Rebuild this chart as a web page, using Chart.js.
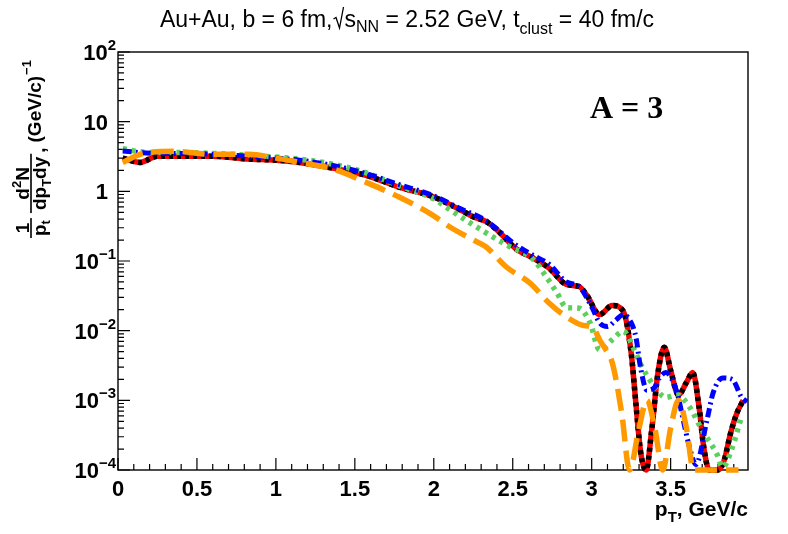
<!DOCTYPE html>
<html><head><meta charset="utf-8">
<script src="https://cdn.jsdelivr.net/npm/chart.js@4.4.1/dist/chart.umd.min.js"></script>
<style>html,body{margin:0;padding:0;background:#fff;} #wrap{width:788px;height:534px;position:relative;}</style>
</head><body><div id="wrap"><canvas id="c"></canvas></div>
<script>
// ---- data (pT in GeV/c, yields in (GeV/c)^-1) ----
const pT_rb = [0.03,0.14,0.25,0.4,0.6,0.83,1.0,1.15,1.36,1.57,1.78,2.0,2.1,2.17,2.25,2.33,2.4,2.52,2.63,2.73,2.84,2.92,2.97,3.05,3.13,3.2,3.25,3.28,3.31,3.345,3.38,3.42,3.46,3.5,3.55,3.6,3.64,3.68,3.71,3.745,3.8,3.84,3.88,3.92,3.96];
const val_rb = [3.0,2.6,3.2,3.2,3.2,2.9,2.8,2.6,2.15,1.7,1.15,0.83,0.65,0.54,0.43,0.37,0.28,0.15,0.11,0.079,0.046,0.043,0.032,0.017,0.023,0.019,0.0048,0.0009,0.00018,0.0001,0.00037,0.0025,0.0058,0.0027,0.0012,0.0018,0.0025,0.0008,0.00021,0.0001,0.0001,0.00014,0.00034,0.00066,0.001];

const pT_blue = [0.03,0.14,0.25,0.4,0.6,0.83,1.0,1.15,1.36,1.57,1.78,2.0,2.17,2.33,2.52,2.63,2.73,2.84,2.92,3.0,3.05,3.1,3.15,3.2,3.25,3.28,3.31,3.35,3.4,3.43,3.47,3.54,3.58,3.62,3.66,3.73,3.77,3.83,3.89,3.95,3.985];
const val_blue = [3.8,3.6,3.5,3.5,3.4,3.2,3.0,2.8,2.35,1.8,1.25,0.86,0.56,0.38,0.17,0.12,0.09,0.05,0.043,0.022,0.013,0.0115,0.014,0.017,0.013,0.0081,0.0029,0.0014,0.00155,0.0021,0.0025,0.0013,0.00052,0.00021,0.00012,0.00052,0.0013,0.0021,0.002,0.0011,0.00095];

const pT_green = [0.03,0.14,0.25,0.4,0.6,0.83,1.0,1.15,1.36,1.57,1.78,2.0,2.1,2.25,2.46,2.63,2.7,2.78,2.84,2.92,2.99,3.05,3.13,3.2,3.27,3.31,3.4,3.47,3.54,3.62,3.7,3.79,3.83,3.89,3.95];
const val_green = [4.1,3.7,3.6,3.6,3.5,3.3,3.1,2.9,2.45,1.85,1.2,0.78,0.55,0.33,0.17,0.105,0.065,0.035,0.0215,0.021,0.0129,0.0053,0.0074,0.0098,0.0053,0.0033,0.00155,0.0011,0.0012,0.0008,0.00037,0.000175,0.00011,0.00021,0.0006];

const pT_orange = [0.03,0.16,0.37,0.58,0.83,1.0,1.15,1.36,1.57,1.78,1.99,2.1,2.25,2.33,2.46,2.61,2.73,2.84,2.94,3.01,3.05,3.09,3.13,3.19,3.24,3.3,3.35,3.4,3.45,3.5,3.55,3.6,3.645,3.7,3.93];
const val_orange = [2.6,3.5,3.75,3.4,3.4,3.0,2.6,2.1,1.35,0.83,0.46,0.31,0.2,0.16,0.082,0.048,0.025,0.0158,0.012,0.0109,0.0074,0.0053,0.0035,0.00066,0.0001,0.0004,0.001,0.0004,0.0001,0.0004,0.001,0.0004,0.0001,0.0001,0.0001];

const xTickValues = [0,0.5,1,1.5,2,2.5,3,3.5];
const xTickLabels = ['0','0.5','1','1.5','2','2.5','3','3.5'];
const yTickValues = [1e-4,1e-3,1e-2,1e-1,1,10,100];
const yTickBase = ['10','10','10','10','1','10','10'];
const yTickSup = ['\u22124','\u22123','\u22122','\u22121','','','2'];

const SANS = '"Liberation Sans", Arial, Helvetica, sans-serif';
const SERIF = '"Liberation Serif", "Times New Roman", serif';

function pts(xs, ys) { return xs.map((x, i) => ({x: x, y: ys[i]})); }
function fnt(p) { return (p.bold ? 'bold ' : '') + p.size + 'px ' + (p.family || SANS); }
function measureParts(ctx, parts) {
  let t = 0;
  parts.forEach(p => {
    if (p.rad) { p.w = p.rad; } else { ctx.font = fnt(p); p.w = ctx.measureText(p.t).width; }
    t += p.w + (p.gap || 0);
  });
  return t;
}
function drawParts(ctx, x, y, parts, align) {
  const total = measureParts(ctx, parts);
  let cx = align === 'center' ? x - total / 2 : (align === 'right' ? x - total : x);
  ctx.textAlign = 'left'; ctx.textBaseline = 'alphabetic';
  parts.forEach(p => {
    if (p.rad) {
      ctx.save(); ctx.lineWidth = 1.3; ctx.strokeStyle = ctx.fillStyle;
      ctx.beginPath();
      ctx.moveTo(cx + 1, y - 8); ctx.lineTo(cx + 3.5, y - 9.5);
      ctx.lineTo(cx + 7, y + 1); ctx.lineTo(cx + p.rad - 1, y - 20);
      ctx.stroke(); ctx.restore();
    } else {
      ctx.font = fnt(p); ctx.fillText(p.t, cx, y + (p.dy || 0));
    }
    cx += p.w + (p.gap || 0);
  });
  return total;
}

const decor = {
  id: 'decor',
  beforeDatasetsDraw(chart) {
    const ctx = chart.ctx, a = chart.chartArea, xs = chart.scales.x, ys = chart.scales.y;
    ctx.save();
    ctx.strokeStyle = '#000'; ctx.lineWidth = 1.4;
    ctx.strokeRect(a.left, a.top, a.right - a.left, a.bottom - a.top);
    ctx.lineWidth = 1.2;
    ctx.beginPath();
    for (let i = 0; i <= 40; i++) {
      const v = i / 10;
      if (v > xs.max) break;
      const px = xs.getPixelForValue(v);
      const len = (i % 5 === 0) ? 12 : 6;
      ctx.moveTo(px, a.bottom); ctx.lineTo(px, a.bottom - len);
    }
    for (let e = -4; e <= 2; e++) {
      for (let k = 1; k <= 9; k++) {
        const v = k * Math.pow(10, e);
        if (v > ys.max * 1.0001) break;
        const py = ys.getPixelForValue(v);
        const len = (k === 1) ? 12 : 6;
        ctx.moveTo(a.left, py); ctx.lineTo(a.left + len, py);
      }
    }
    ctx.stroke();
    ctx.restore();
  },
  afterDraw(chart) {
    const ctx = chart.ctx, a = chart.chartArea, xs = chart.scales.x, ys = chart.scales.y;
    ctx.save();
    ctx.fillStyle = '#000';
    // x tick labels
    ctx.font = 'bold 22px ' + SANS; ctx.textAlign = 'center'; ctx.textBaseline = 'alphabetic';
    xTickValues.forEach((v, i) => ctx.fillText(xTickLabels[i], xs.getPixelForValue(v), a.bottom + 26));
    // y tick labels
    yTickValues.forEach((v, i) => {
      const py = ys.getPixelForValue(v);
      const parts = [{t: yTickBase[i], size: 22, bold: true}];
      if (yTickSup[i]) parts.push({t: yTickSup[i], size: 15, bold: true, dy: -10, gap: 0});
      drawParts(ctx, yTickSup[i] ? a.left - 2 : a.left - 10, py + 8, parts, 'right');
    });
    // title
    drawParts(ctx, 407, 27, [
      {t: 'Au+Au, b = 6 fm,', size: 23},
      {rad: 12},
      {t: 's', size: 23},
      {t: 'NN', size: 16, dy: 5},
      {t: ' = 2.52 GeV, t', size: 23},
      {t: 'clust', size: 16, dy: 7},
      {t: ' = 40 fm/c', size: 23}
    ], 'center');
    // x axis title
    drawParts(ctx, a.right, 516, [
      {t: 'p', size: 21, bold: true},
      {t: 'T', size: 15, bold: true, dy: 6},
      {t: ', GeV/c', size: 21, bold: true}
    ], 'right');
    // A = 3
    ctx.font = 'bold 32px ' + SERIF; ctx.textAlign = 'left';
    ctx.fillText('A = 3', 590, 118);
    // y axis title (rotated)
    ctx.translate(31, 238); ctx.rotate(-Math.PI / 2);
    const F = 19, S = 13;
    const n1 = [{t: '1', size: F, bold: true}];
    const d1 = [{t: 'p', size: F, bold: true}, {t: 't', size: S, bold: true, dy: 4}];
    const w1 = Math.max(measureParts(ctx, n1), measureParts(ctx, d1)) + 4;
    ctx.fillRect(0, -0.8, w1, 1.6);
    drawParts(ctx, w1 / 2, -2, n1, 'center');
    drawParts(ctx, w1 / 2, 15, d1, 'center');
    let u = w1 + 5;
    const n2 = [{t: 'd', size: F, bold: true}, {t: '2', size: S, bold: true, dy: -8}, {t: 'N', size: F, bold: true}];
    const d2 = [{t: 'dp', size: F, bold: true}, {t: 'T', size: S, bold: true, dy: 5}, {t: 'dy', size: F, bold: true}];
    const w2 = Math.max(measureParts(ctx, n2), measureParts(ctx, d2)) + 6;
    ctx.fillRect(u, -0.8, w2, 1.6);
    drawParts(ctx, u + w2 / 2, -2, n2, 'center');
    drawParts(ctx, u + w2 / 2, 15, d2, 'center');
    u += w2 + 1;
    u += drawParts(ctx, u, 14, [{t: ',', size: F, bold: true}], 'left') + 5;
    u += drawParts(ctx, u, 10, [{t: '(GeV/c)', size: F, bold: true}], 'left');
    drawParts(ctx, u + 1, 0, [{t: '\u22121', size: S, bold: true}], 'left');
    ctx.restore();
  }
};

const common = {pointRadius: 0, pointHoverRadius: 0, fill: false, cubicInterpolationMode: 'monotone',
  clip: {left: 0, top: 0, right: 0, bottom: 3}, borderCapStyle: 'butt', borderJoinStyle: 'round'};

new Chart(document.getElementById('c'), {
  type: 'line',
  data: {
    datasets: [
      Object.assign({label: 'orange', data: pts(pT_orange, val_orange), borderColor: '#ff9900', borderWidth: 5.5, borderDash: [22, 9], order: 1}, common),
      Object.assign({label: 'blue', data: pts(pT_blue, val_blue), borderColor: '#0000ff', borderWidth: 5, borderDash: [9, 4, 2, 4], order: 2}, common),
      Object.assign({label: 'green', data: pts(pT_green, val_green), borderColor: '#5ccf5c', borderWidth: 5.5, borderDash: [4, 5], order: 3}, common),
      Object.assign({label: 'black', data: pts(pT_rb, val_rb), borderColor: '#000000', borderWidth: 5.5, borderDash: [4, 4], order: 4}, common),
      Object.assign({label: 'red', data: pts(pT_rb, val_rb), borderColor: '#ff0000', borderWidth: 5.5, order: 5}, common)
    ]
  },
  options: {
    responsive: true, maintainAspectRatio: false, animation: false,
    layout: {padding: {left: 118, right: 40, top: 52, bottom: 64}},
    plugins: {legend: {display: false}, tooltip: {enabled: false}, title: {display: false}},
    scales: {
      x: {type: 'linear', min: 0, max: 3.99, display: false},
      y: {type: 'logarithmic', min: 1e-4, max: 100, display: false}
    }
  },
  plugins: [decor]
});
</script></body></html>
